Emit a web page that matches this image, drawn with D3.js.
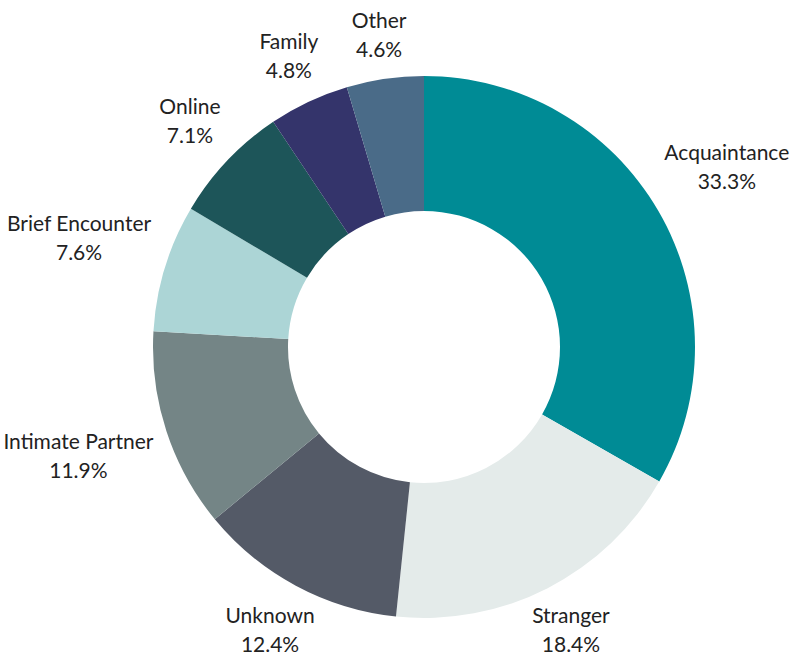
<!DOCTYPE html>
<html>
<head>
<meta charset="utf-8">
<script src="https://cdn.jsdelivr.net/npm/d3@7"></script>
<style>
  body { margin: 0; background: #fff; }
  text { font-family: Lato, "Open Sans", sans-serif; fill: #222; }
</style>
</head>
<body>
<svg id="chart" width="811" height="658"></svg>
<script>
const categories = ["Acquaintance", "Stranger", "Unknown", "Intimate Partner", "Brief Encounter", "Online", "Family", "Other"];
const values = [33.3, 18.4, 12.4, 11.9, 7.6, 7.1, 4.8, 4.6];
const colors = ["#008b95", "#e4ebea", "#545a67", "#748586", "#acd5d6", "#1d5559", "#34346b", "#4a6b88"];

const svg = d3.select("#chart");
const cx = 424, cy = 347;
const outer = 271, inner = 136;
const labelR = 285;
const fontSize = 21, lineGap = 29, capH = 15;

const pie = d3.pie().sort(null).value((d) => d.value);
const arc = d3.arc().innerRadius(inner).outerRadius(outer);

const data = categories.map((c, i) => ({ name: c, value: values[i], color: colors[i] }));
const arcs = pie(data);

const g = svg.append("g").attr("transform", `translate(${cx},${cy})`);

g.selectAll("path")
  .data(arcs)
  .enter()
  .append("path")
  .attr("d", arc)
  .attr("fill", (d) => d.data.color);

// labels: push the (cap-height to baseline) box out so its edge sits on labelR
const labels = g
  .selectAll(".label")
  .data(arcs)
  .enter()
  .append("g")
  .attr("class", "label");

labels
  .append("text")
  .attr("text-anchor", "middle")
  .attr("font-size", fontSize + "px")
  .selectAll("tspan")
  .data((d) => [d.data.name, d3.format(".1f")(d.data.value) + "%"])
  .enter()
  .append("tspan")
  .attr("x", 0)
  .attr("y", (d, i) => i * lineGap)
  .text((d) => d);

labels.each(function (d) {
  const a = (d.startAngle + d.endAngle) / 2;
  const s = Math.sin(a), c = -Math.cos(a);
  const box = this.getBBox();
  const top = -capH, bottom = lineGap;
  const bx = box.x + box.width / 2, by = (top + bottom) / 2;
  const ext = (box.width / 2) * Math.abs(s) + ((bottom - top) / 2) * Math.abs(c);
  const r = labelR + ext;
  d3.select(this).attr("transform", `translate(${r * s - bx},${r * c - by - 4})`);
});
</script>
</body>
</html>
